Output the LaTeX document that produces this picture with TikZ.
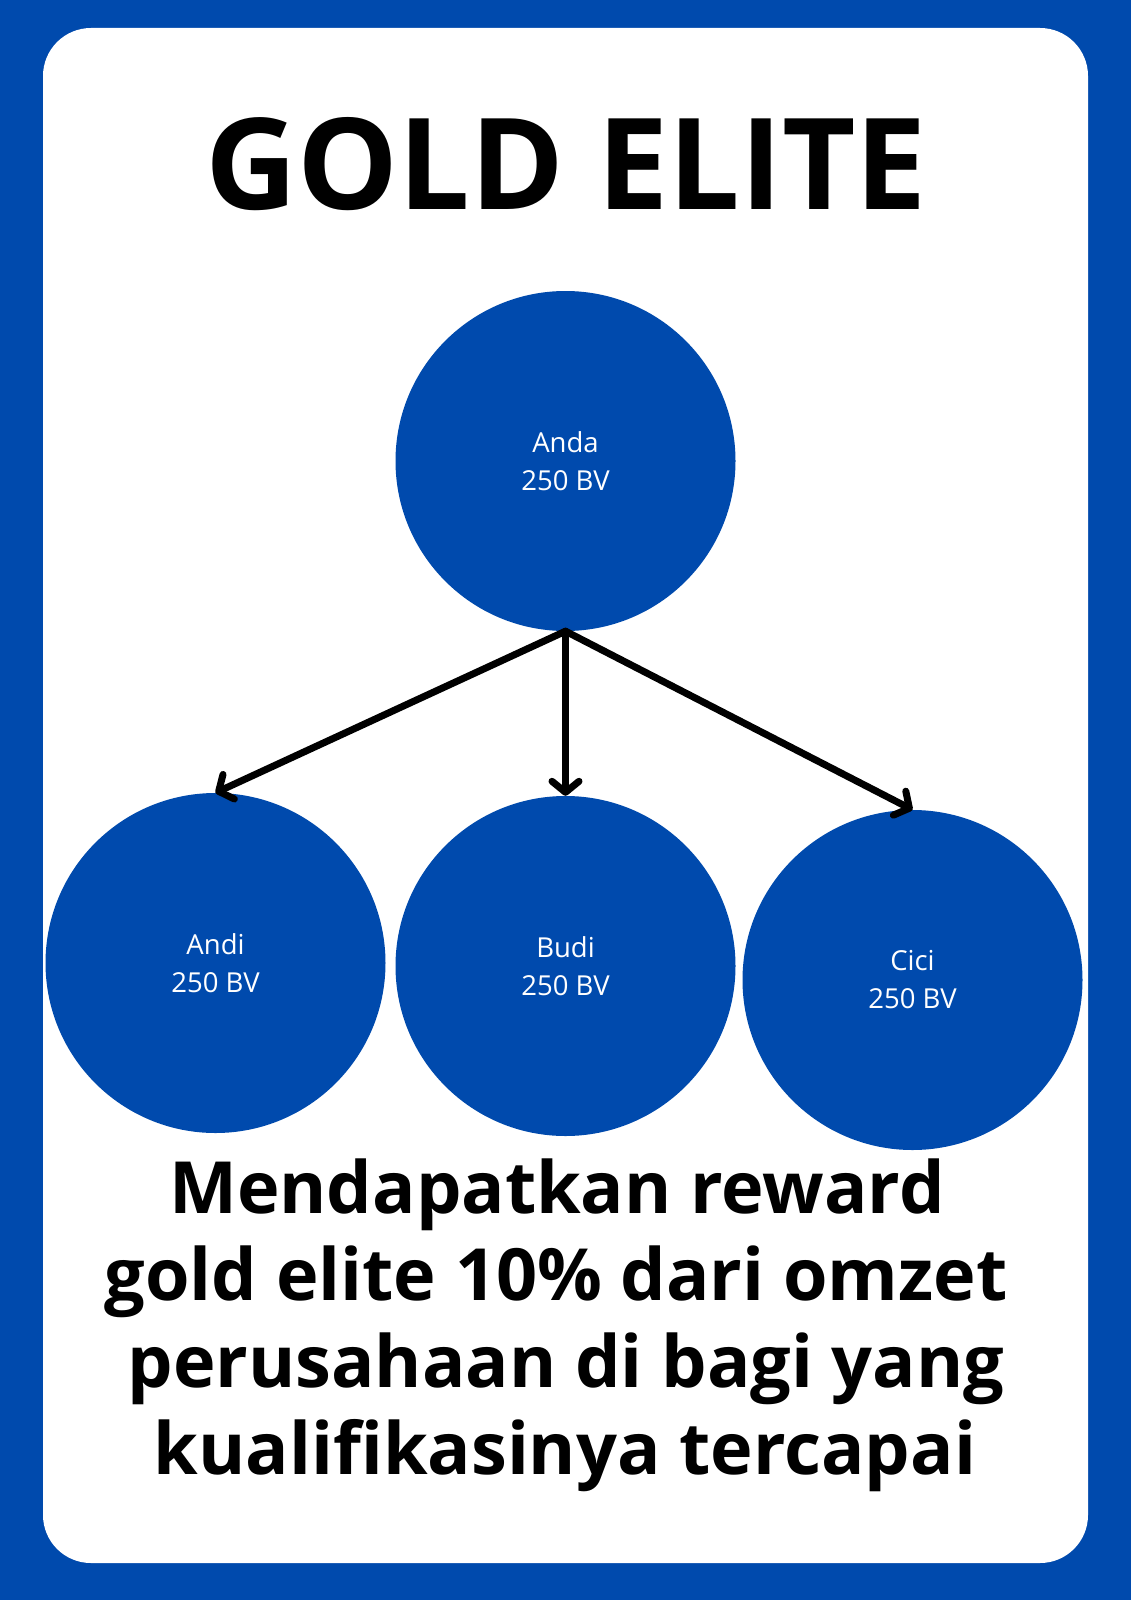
\documentclass[tikz,border=0pt]{standalone}
\usepackage{fontspec}
\setmainfont{Open Sans}
\usetikzlibrary{arrows.meta}
\definecolor{brandblue}{HTML}{004AAD}
\begin{document}
\begin{tikzpicture}[x=1pt,y=-1pt,
  member/.style={circle,fill=brandblue,draw=none,minimum size=340pt,inner sep=0pt,
    text=white,align=center,font=\fontsize{27.5}{38}\selectfont},
  link/.style={line width=7pt,draw=black,line cap=round,
    -{Straight Barb[length=11pt,width=27pt,line cap=round,line join=round]}},
  bodyline/.style={anchor=base,inner sep=0pt,font=\fontsize{72}{87}\selectfont\bfseries}]
\useasboundingbox (0,0) rectangle (1131,1600);
\fill[brandblue] (0,0) rectangle (1131,1600);
\fill[white,rounded corners=48pt] (43,28) rectangle (1088,1563);
\node[anchor=base,inner sep=0pt,font=\fontsize{127}{127}\selectfont\bfseries] (title) at (566.5,209) {GOLD ELITE};
\node[member] (anda) at (565.5,461) {Anda\\250 BV};
\node[member] (andi) at (215.5,963) {Andi\\250 BV};
\node[member] (budi) at (565.5,966) {Budi\\250 BV};
\node[member] (cici) at (912.5,980) {Cici\\250 BV};
\draw[link] (anda.south) -- (andi.north);
\draw[link] (anda.south) -- (budi.north);
\draw[link] (anda.south) -- (cici.north);
\node[bodyline] (l1) at (557,1213) {Mendapatkan reward};
\node[bodyline] (l2) at (556,1300) {gold elite 10\% dari omzet};
\node[bodyline] (l3) at (566,1387) {perusahaan di bagi yang};
\node[bodyline] (l4) at (565,1474) {kualifikasinya tercapai};
\end{tikzpicture}
\end{document}
